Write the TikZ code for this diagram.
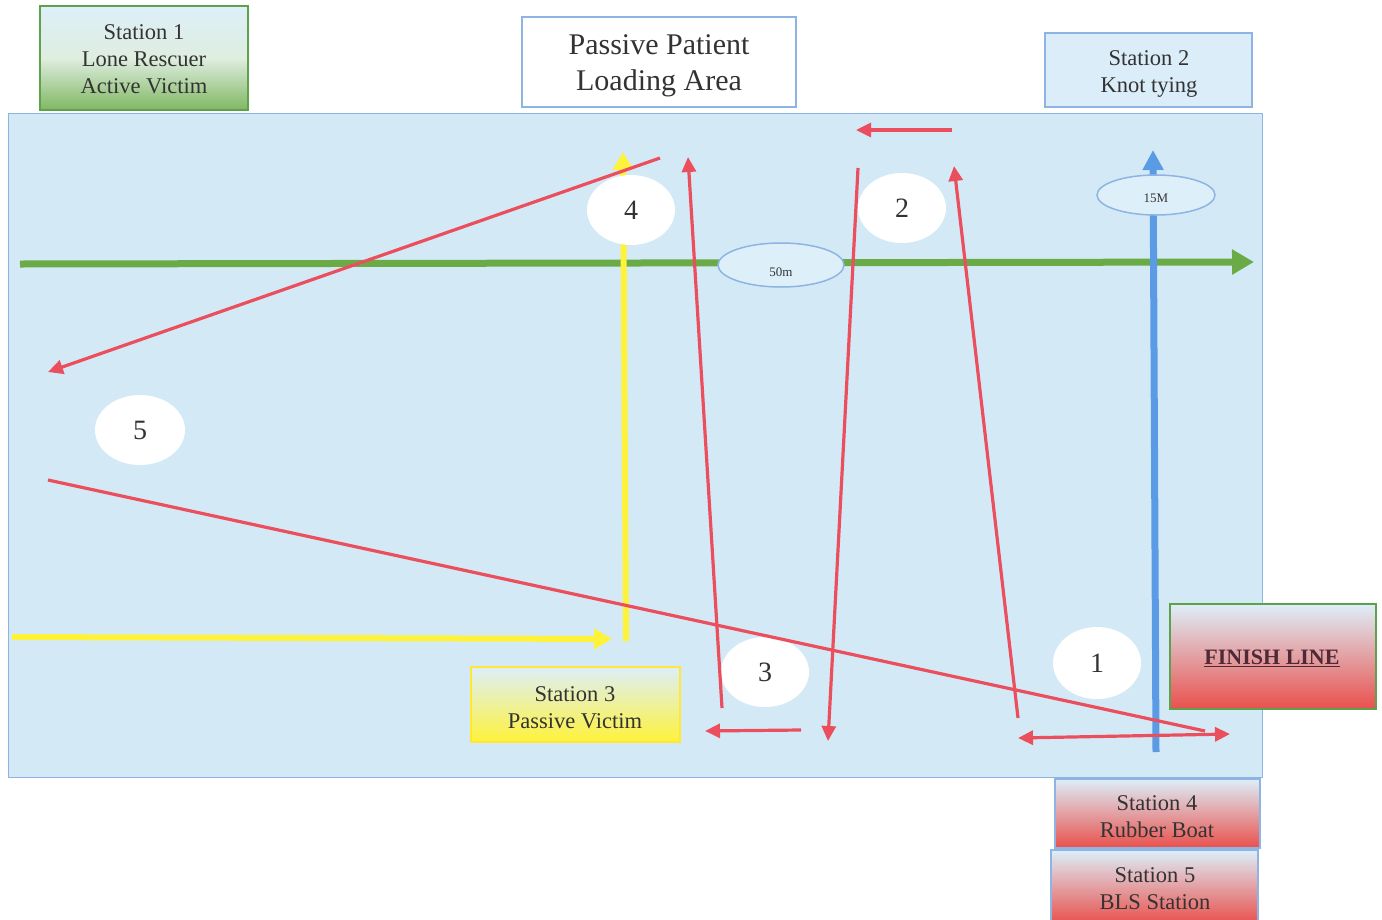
\documentclass[tikz,border=0pt]{standalone}
\usepackage{fontspec}
\setmainfont{Liberation Serif}
\usetikzlibrary{arrows.meta,shapes.geometric}
\definecolor{pool}{HTML}{D3EAF6}
\definecolor{poolborder}{HTML}{8EB4E3}
\definecolor{lightsky}{HTML}{DDEFF9}
\definecolor{grn}{HTML}{6AAB47}
\definecolor{grnborder}{HTML}{5FA04A}
\definecolor{rd}{HTML}{EB4F5E}
\definecolor{redfill}{HTML}{E9504C}
\definecolor{pinkmid}{HTML}{E8CFE0}
\definecolor{blu}{HTML}{5B9BE6}
\definecolor{ylw}{HTML}{FFF23A}
\definecolor{txt}{HTML}{333333}
\begin{document}
\begin{tikzpicture}[x=1pt,y=-1pt,
  lbl/.style={align=center,text=txt,font=\fontsize{22.5}{27}\selectfont,inner sep=0pt},
  boxstyle/.style={draw,line width=1.5pt,minimum width=#1,inner sep=0pt},
  numell/.style={ellipse,fill=white,minimum width=88pt,minimum height=70pt,inner sep=0pt,text=txt,font=\fontsize{28}{30}\selectfont},
  distell/.style={ellipse,draw=poolborder,line width=1.5pt,fill=lightsky,inner sep=0pt,text=txt,font=\fontsize{13}{14}\selectfont},
  redarrow/.style={draw=rd,line width=3.2pt,-{Triangle[length=15pt,width=14pt]}},
  redline/.style={draw=rd,line width=3.2pt},
  redboth/.style={draw=rd,line width=3.2pt,{Triangle[length=15pt,width=14pt]}-{Triangle[length=15pt,width=14pt]}}
]
\useasboundingbox (0,0) rectangle (1382,919);
\fill[white] (0,0) rectangle (1382,919);

% pool
\node[draw=poolborder,fill=pool,line width=1.5pt,minimum width=1254pt,minimum height=664pt,inner sep=0pt] (pool) at (635.5,445.5) {};

% station boxes
\node[boxstyle=208pt,minimum height=104pt,draw=grnborder,shading=axis,top color=lightsky,bottom color=grn!85,middle color=lightsky!60!grn!40] (st1) at (144,58) {};
\node[lbl] (st1t) at (144,59) {Station 1\\Lone Rescuer\\Active Victim};

\node[boxstyle=274pt,minimum height=90pt,draw=poolborder,fill=white] (ppla) at (659,62) {};
\node[align=center,text=txt,font=\fontsize{30}{36}\selectfont,inner sep=0pt] (pplat) at (659,66) {Passive Patient\\Loading Area};

\node[boxstyle=207pt,minimum height=74pt,draw=poolborder,fill=lightsky!70!pool] (st2) at (1148.5,70) {};
\node[lbl] (st2t) at (1149,74) {Station 2\\Knot tying};

\node[boxstyle=206pt,minimum height=105pt,draw=grnborder,shading=axis,top color=lightsky,middle color=pinkmid,bottom color=redfill] (fin) at (1273,656.5) {};
\node[inner sep=0pt,text=txt!80!purple,font=\bfseries\fontsize{22}{24}\selectfont] (fint) at (1272,658) {\underline{FINISH LINE}};

\node[boxstyle=209pt,minimum height=75pt,draw=ylw!90!orange,shading=axis,top color=lightsky,middle color=lightsky!50!ylw,bottom color=ylw] (st3) at (575.5,704.5) {};
\node[lbl] (st3t) at (575,708) {Station 3\\Passive Victim};

\node[boxstyle=205pt,minimum height=69pt,draw=poolborder,shading=axis,top color=lightsky,middle color=pinkmid,bottom color=redfill] (st4) at (1157.5,813.5) {};
\node[lbl] (st4t) at (1157,817) {Station 4\\Rubber Boat};

\node[boxstyle=207pt,minimum height=74pt,draw=poolborder,shading=axis,top color=lightsky,middle color=pinkmid,bottom color=redfill] (st5) at (1154.5,887) {};
\node[lbl] (st5t) at (1155,889) {Station 5\\BLS Station};

% green 50m arrow
\coordinate (gs) at (20,264);
\coordinate (ge) at (1254,262);
\draw[grn,line width=7pt,-{Triangle[length=22pt,width=24pt]}] (gs) -- (ge);
\node[distell,minimum width=126pt,minimum height=44pt] (d50) at (781,265) {};
\node[distell,draw=none,fill=none] (d50t) at (781,272) {50m};

% blue 15M arrow
\coordinate (bs) at (1156,752);
\coordinate (be) at (1153,150);
\draw[blu,line width=7pt,-{Triangle[length=20pt,width=20pt]}] (bs) -- (be);
\node[distell,minimum width=118pt,minimum height=40pt] (d15) at (1156,195) {};
\node[distell,draw=none,fill=none] (d15t) at (1156,198) {15M};

% yellow arrows
\coordinate (ys) at (12,637);
\coordinate (ye) at (612,639);
\draw[ylw,line width=6pt,-{Triangle[length=18pt,width=20pt]}] (ys) -- (ye);
\coordinate (yvs) at (626,641);
\coordinate (yve) at (623,152);
\draw[ylw,line width=6pt,-{Triangle[length=18pt,width=20pt]}] (yvs) -- (yve);

% red path coordinates
\coordinate (r1a) at (660,158);  \coordinate (r1b) at (48,372);
\coordinate (r2a) at (48,480);   \coordinate (r2b) at (1205,731);
\coordinate (r3a) at (722,708);  \coordinate (r3b) at (688,157);
\coordinate (r4a) at (858,168);  \coordinate (r4b) at (828,741);
\coordinate (r5a) at (1018,718); \coordinate (r5b) at (954,166);
\coordinate (r6a) at (952,130);  \coordinate (r6b) at (856,130);
\coordinate (r7a) at (801,730);  \coordinate (r7b) at (705,731);
\coordinate (r8a) at (1018,738); \coordinate (r8b) at (1230,734);

% white number ellipses
\node[numell] (n4) at (631,210) {4};
\node[numell] (n2) at (902,208) {2};
\node[numell,minimum width=90pt] (n5) at (140,430) {5};
\node[numell] (n3) at (765,672) {3};
\node[numell,minimum height=72pt] (n1) at (1097,663) {1};

\draw[redarrow] (r1a) -- (r1b);
\draw[redline] (r2a) -- (r2b);
\draw[redarrow] (r3a) -- (r3b);
\draw[redarrow] (r4a) -- (r4b);
\draw[redarrow] (r5a) -- (r5b);
\draw[redarrow] (r6a) -- (r6b);
\draw[redarrow] (r7a) -- (r7b);
\draw[redboth] (r8a) -- (r8b);

\end{tikzpicture}
\end{document}
